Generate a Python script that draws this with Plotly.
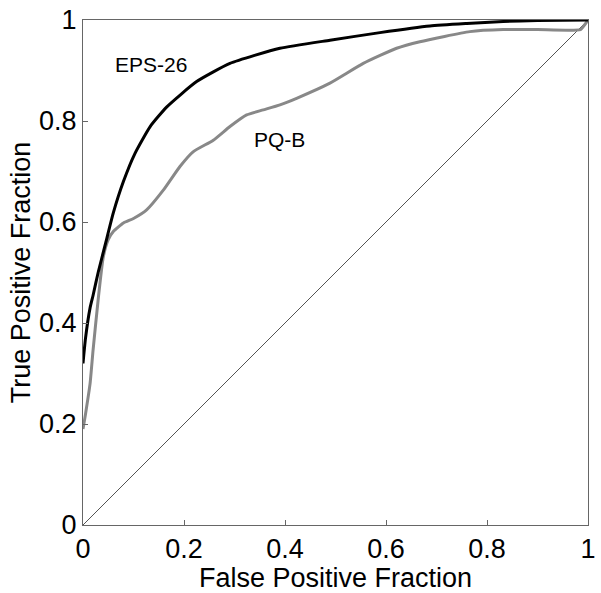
import plotly.graph_objects as go

# EPS-26 ROC curve
eps_fpf = [0.0, 0.005, 0.014, 0.020, 0.030, 0.044, 0.060, 0.080, 0.103, 0.133, 0.166,
           0.225, 0.291, 0.390, 0.489, 0.588, 0.687, 0.760, 0.832, 0.900, 1.0]
eps_tpf = [0.32, 0.37, 0.43, 0.455, 0.50, 0.555, 0.618, 0.680, 0.736, 0.789, 0.828,
           0.878, 0.914, 0.944, 0.960, 0.975, 0.988, 0.993, 0.997, 0.999, 1.0]

# PQ-B ROC curve
pq_fpf = [0.0, 0.005, 0.014, 0.020, 0.030, 0.040, 0.050, 0.060, 0.080, 0.100, 0.126,
          0.159, 0.192, 0.218, 0.258, 0.291, 0.324, 0.357, 0.390, 0.423, 0.489,
          0.555, 0.621, 0.667, 0.766, 0.832, 0.900, 0.985, 0.993, 1.0]
pq_tpf = [0.19, 0.22, 0.28, 0.347, 0.446, 0.530, 0.565, 0.581, 0.598, 0.607, 0.624,
          0.663, 0.710, 0.739, 0.762, 0.789, 0.812, 0.822, 0.832, 0.845, 0.875,
          0.914, 0.944, 0.957, 0.977, 0.981, 0.981, 0.981, 0.99, 1.0]

chance = [0, 1]

fig = go.Figure()
fig.add_trace(go.Scatter(x=chance, y=chance, mode="lines",
                         line=dict(color="#555555", width=1), showlegend=False))
fig.add_trace(go.Scatter(x=pq_fpf, y=pq_tpf, mode="lines",
                         line=dict(color="#888888", width=3, shape="spline", smoothing=0.5),
                         showlegend=False))
fig.add_trace(go.Scatter(x=eps_fpf, y=eps_tpf, mode="lines",
                         line=dict(color="#000000", width=3, shape="spline", smoothing=0.5),
                         showlegend=False))

fig.add_annotation(x=0.135, y=0.912, text="EPS-26", showarrow=False,
                   font=dict(size=21, color="black"))
fig.add_annotation(x=0.389, y=0.764, text="PQ-B", showarrow=False,
                   font=dict(size=21, color="black"))

axis_style = dict(
    range=[0, 1], tickvals=[0, 0.2, 0.4, 0.6, 0.8, 1],
    ticktext=["0", "0.2", "0.4", "0.6", "0.8", "1"],
    showgrid=False, zeroline=False, showline=True, linecolor="#666666",
    linewidth=1, mirror=True, ticks="inside", ticklen=5, tickcolor="#666666",
    tickfont=dict(size=27, color="black"), automargin=False,
)
fig.update_xaxes(**axis_style, title=dict(text="False Positive Fraction",
                                          font=dict(size=27, color="black"), standoff=0))
fig.update_yaxes(**axis_style, title=dict(text="True Positive Fraction",
                                          font=dict(size=27, color="black"), standoff=0))

fig.update_layout(
    width=601, height=593,
    margin=dict(l=83, r=13, t=20, b=68),
    plot_bgcolor="white", paper_bgcolor="white",
    font=dict(family="Liberation Sans, Arial, sans-serif"),
)
fig.write_html("out.html", config={"displayModeBar": False},
               post_script="document.body.style.margin='0';")
